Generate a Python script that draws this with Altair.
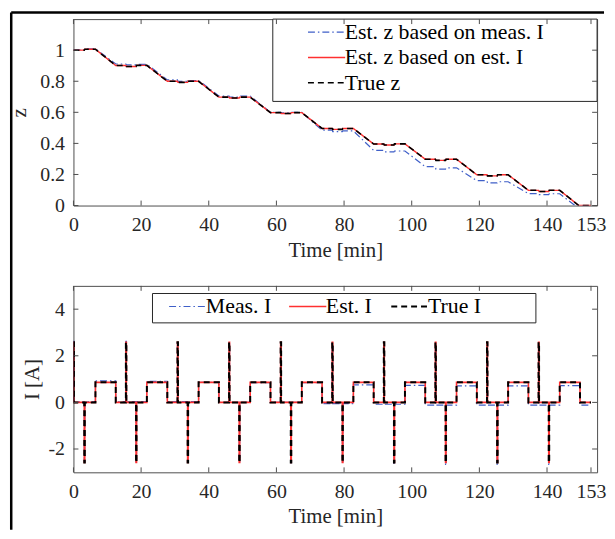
import altair as alt
import pandas as pd

# ---------------- data ----------------
# profile event times [min]
t_spike_up = [0.0, 15.5, 30.75, 46.0, 61.25, 76.5, 91.75, 107.0, 122.25, 137.5]
t_spike_dn = [3.2, 18.5, 33.75, 49.0, 64.25, 79.5, 94.75, 110.0, 125.25, 140.5]
t_rise = [6.5, 21.7, 37.0, 52.25, 67.5, 82.75, 98.0, 113.25, 128.5, 143.75]
t_fall = [12.5, 27.75, 43.0, 58.25, 73.5, 88.75, 104.0, 119.25, 134.5, 149.75]
t_end = 153.0
spike_len = 0.15

# current levels [A]
spike_up_amp = 2.58
spike_dn_amp = 2.58
true_rest = [0.0, 0.0, 0.0, 0.0, 0.0, 0.0, 0.0, 0.0, 0.0, 0.0, 0.0]
true_pulse = [0.86, 0.86, 0.86, 0.86, 0.86, 0.86, 0.86, 0.86, 0.86, 0.86]
est_rest = [0.0, 0.0, 0.0, 0.0, 0.0, 0.0, 0.0, 0.0, 0.0, 0.0, 0.0]
est_pulse = [0.86, 0.86, 0.86, 0.86, 0.86, 0.86, 0.86, 0.86, 0.86, 0.86]
meas_rest = [0.04, 0.04, 0.03, 0.0, 0.0, -0.05, -0.08, -0.12, -0.12, -0.12, -0.12]
meas_pulse = [0.92, 0.90, 0.86, 0.85, 0.85, 0.75, 0.73, 0.71, 0.71, 0.72]

# state of charge at rest levels (before up-spike, between spikes, after down-spike)
true_z_a = [1.0, 0.901, 0.800, 0.698, 0.598, 0.496, 0.396, 0.298, 0.198, 0.098]
true_z_b = [1.0, 0.895, 0.793, 0.692, 0.592, 0.490, 0.390, 0.291, 0.191, 0.090]
true_z_c = [1.006, 0.902, 0.800, 0.698, 0.598, 0.496, 0.397, 0.298, 0.198, 0.098]
true_z_empty = 149.4
est_z_a = [1.0, 0.901, 0.800, 0.698, 0.598, 0.496, 0.396, 0.298, 0.198, 0.098]
est_z_b = [1.0, 0.895, 0.793, 0.692, 0.592, 0.490, 0.390, 0.291, 0.191, 0.090]
est_z_c = [1.006, 0.902, 0.800, 0.698, 0.598, 0.496, 0.397, 0.298, 0.198, 0.098]
est_z_empty = 149.4
meas_z_a = [1.002, 0.911, 0.809, 0.705, 0.600, 0.485, 0.355, 0.250, 0.160, 0.077]
meas_z_b = [1.002, 0.905, 0.799, 0.698, 0.596, 0.476, 0.345, 0.235, 0.146, 0.070]
meas_z_c = [1.009, 0.909, 0.805, 0.705, 0.600, 0.480, 0.351, 0.243, 0.153, 0.076]
meas_z_empty = 148.3

x_ticks = [0, 20, 40, 60, 80, 100, 120, 140, 153]
z_ticks = [0, 0.2, 0.4, 0.6, 0.8, 1]
i_ticks = [-2, 0, 2, 4]

z_names = ["Est. z based on meas. I", "Est. z based on est. I", "True z"]
i_names = ["Meas. I", "Est. I", "True I"]


def current_points(rest, pulse):
    pts = []
    for k in range(len(t_rise)):
        start = 0.0 if k == 0 else t_fall[k - 1]
        r = rest[k]
        u, d = t_spike_up[k], t_spike_dn[k]
        pts += [(start, r), (u, r), (u, r + spike_up_amp), (u + spike_len, r + spike_up_amp),
                (u + spike_len, r), (d, r), (d, r - spike_dn_amp), (d + spike_len, r - spike_dn_amp),
                (d + spike_len, r), (t_rise[k], r), (t_rise[k], pulse[k]),
                (t_fall[k], pulse[k]), (t_fall[k], rest[k + 1])]
    pts.append((t_end, rest[-1]))
    return pts


def soc_points(za, zb, zc, t_empty):
    pts = []
    for k in range(len(t_rise)):
        start = 0.0 if k == 0 else t_fall[k - 1]
        u, d = t_spike_up[k], t_spike_dn[k]
        pts += [(start, za[k]), (u, za[k]), (u + spike_len, zb[k]), (d, zb[k]),
                (d + spike_len, zc[k]), (t_rise[k], zc[k])]
    pts += [(t_empty, 0.0), (t_end, 0.0)]
    return pts


def frame(series_pts, names):
    rows = []
    idx = 0
    for name, pts in zip(names, series_pts):
        for t, v in pts:
            rows.append({"t": t, "v": v, "series": name, "idx": idx})
            idx += 1
    return pd.DataFrame(rows)


df_z = frame([soc_points(meas_z_a, meas_z_b, meas_z_c, meas_z_empty),
              soc_points(est_z_a, est_z_b, est_z_c, est_z_empty),
              soc_points(true_z_a, true_z_b, true_z_c, true_z_empty)], z_names)
df_i = frame([current_points(meas_rest, meas_pulse),
              current_points(est_rest, est_pulse),
              current_points(true_rest, true_pulse)], i_names)

# ---------------- styling ----------------
FONT = "Liberation Serif"
TXT = "#262626"
AX = "#4d4d4d"
W, H = 528, 188
XMAX = 154.8
colors = ["#3f5fc8", "#ff3030", "#000000"]
dashes = [[7, 3, 1.5, 3], [1, 0], [6, 4]]
SYM = "M-3.47,0H1.53"   # long horizontal legend sample

xscale = alt.Scale(domain=[0, XMAX], nice=False, zero=False)
dummy = pd.DataFrame({"a": [0]})


def panel(df, names, ydomain, yticks, ytitle, ytitle_pad, widths, legend, box):
    yscale = alt.Scale(domain=ydomain, nice=False, zero=False)
    xaxis = alt.Axis(values=x_ticks, labelExpr="'' + datum.value", labelFlush=False,
                     labelOverlap=False, labelPadding=9.5, title="Time [min]", titlePadding=4.5)
    yaxis = alt.Axis(values=yticks, labelExpr="'' + datum.value", labelPadding=9,
                     labelOverlap=False, title=ytitle, titlePadding=ytitle_pad)
    lines = alt.Chart(df).mark_line(clip=True).encode(
        x=alt.X("t:Q", scale=xscale, axis=xaxis),
        y=alt.Y("v:Q", scale=yscale, axis=yaxis),
        color=alt.Color("series:N", scale=alt.Scale(domain=names, range=colors), legend=legend),
        strokeDash=alt.StrokeDash("series:N", scale=alt.Scale(domain=names, range=dashes), legend=legend),
        strokeWidth=alt.StrokeWidth("series:N", scale=alt.Scale(domain=names, range=widths), legend=None),
        order="idx:Q",
    )
    xt = pd.DataFrame({"t": x_ticks})
    yt = pd.DataFrame({"v": yticks})
    tick_b = alt.Chart(xt).mark_rule(color=AX, strokeWidth=1).encode(
        x=alt.X("t:Q", scale=xscale, axis=xaxis), y=alt.value(H), y2=alt.value(H - 5))
    tick_t = alt.Chart(xt).mark_rule(color=AX, strokeWidth=1).encode(
        x=alt.X("t:Q", scale=xscale, axis=xaxis), y=alt.value(0), y2=alt.value(5))
    tick_l = alt.Chart(yt).mark_rule(color=AX, strokeWidth=1).encode(
        y=alt.Y("v:Q", scale=yscale, axis=yaxis), x=alt.value(0), x2=alt.value(5))
    tick_r = alt.Chart(yt).mark_rule(color=AX, strokeWidth=1).encode(
        y=alt.Y("v:Q", scale=yscale, axis=yaxis), x=alt.value(W - 5), x2=alt.value(W))
    bx = alt.Chart(dummy).mark_rect(fill="white", stroke=TXT, strokeWidth=1).encode(
        x=alt.value(box[0]), x2=alt.value(box[1]), y=alt.value(box[2]), y2=alt.value(box[3]))
    return [bx, lines, tick_b, tick_t, tick_l, tick_r]


legend_z = alt.Legend(orient="none", legendX=251.5, legendY=2.2, title=None, symbolType=SYM,
                      symbolSize=225, symbolStrokeWidth=1.5, labelFont=FONT, labelFontSize=22,
                      labelColor="black", labelOffset=0, rowPadding=3.5, padding=0, labelLimit=500)
legend_i = alt.Legend(orient="none", legendX=111.5, legendY=9.8, title=None, symbolType=SYM,
                      direction="horizontal", columns=3, columnPadding=14, gridAlign="each",
                      symbolSize=225, symbolStrokeWidth=1.5, labelFont=FONT, labelFontSize=22,
                      labelColor="black", labelOffset=0, padding=0, labelLimit=500)

# page frame (decoration)
frame_top = alt.Chart(dummy).mark_rule(color="black", strokeWidth=2.5).encode(
    x=alt.value(-62.75), x2=alt.value(535), y=alt.value(-6.75))
frame_left = alt.Chart(dummy).mark_rule(color="black", strokeWidth=2.5).encode(
    x=alt.value(-62.75), y=alt.value(-6.75), y2=alt.value(515))

top_layers = panel(df_z, z_names, [0, 1.2], z_ticks, "z", 10, [1.2, 1.6, 1.4], legend_z,
                   (201, W, 0, 83))
bot_layers = panel(df_i, i_names, [-3, 5], i_ticks, "I [A]", 5.5, [1.2, 2.0, 1.5], legend_i,
                   (79.7, 466.3, 7.7, 37.3))

top = alt.layer(*top_layers, frame_top, frame_left).properties(width=W, height=H)
bottom = alt.layer(*bot_layers).properties(width=W, height=H)

chart = alt.vconcat(top, bottom, spacing=81, bounds="flush").resolve_scale(
    color="independent", strokeDash="independent", strokeWidth="independent"
).properties(
    padding={"left": 0, "top": 0, "right": 0, "bottom": 0}
).configure(padding={"left": 0, "top": 0, "right": 0, "bottom": 0}).configure_view(
    stroke=AX, strokeWidth=1
).configure_axis(
    labelFont=FONT, labelFontSize=20, labelColor=TXT, titleFont=FONT, titleFontSize=21,
    titleColor=TXT, titleFontWeight="normal", grid=False, domain=False, ticks=False
)

chart.save("out.html", embed_options={"renderer": "svg", "actions": False})
